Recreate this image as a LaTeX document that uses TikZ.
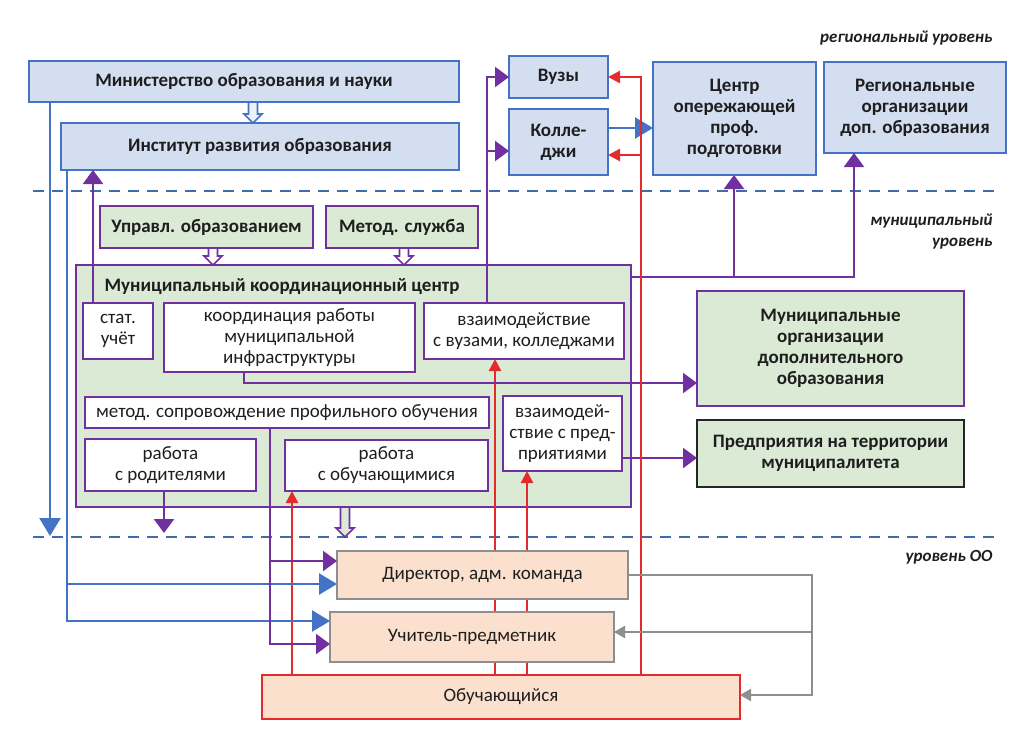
\documentclass[tikz,border=0pt]{standalone}
\usepackage{fontspec}
\setmainfont{Carlito}
\usetikzlibrary{arrows.meta}
\definecolor{bfill}{HTML}{D3DEF0}
\definecolor{bdraw}{HTML}{4472C4}
\definecolor{gfill}{HTML}{DAEAD5}
\definecolor{pur}{HTML}{7030A0}
\definecolor{pfill}{HTML}{FBE0CD}
\definecolor{gr}{HTML}{8E8E8E}
\definecolor{rd}{HTML}{E32B2B}
\definecolor{dsh}{HTML}{3F6CAA}
\definecolor{txt}{HTML}{1E1E1E}
\newcommand\bx[7]{\node[#2, minimum width={(#5-#3)*1pt}, minimum height={(#6-#4)*1pt}] (#1) at ({(#3+#5)/2},{(#4+#6)/2}) {#7};}
\newcommand\harrow[5]{\draw[draw=#4, fill=#5, line width=1.6pt, line join=miter] ({#1-4.5},{#2}) -- ({#1+4.5},{#2}) -- ({#1+4.5},{#3-9}) -- ({#1+9},{#3-9}) -- ({#1},{#3}) -- ({#1-9},{#3-9}) -- ({#1-4.5},{#3-9}) -- cycle;}
\tikzset{
  rfont/.style={font=\fontsize{19}{21}\selectfont, text=txt},
  bfont/.style={font=\fontsize{19}{21}\selectfont\bfseries, text=txt},
  box/.style={draw, line width=2.2pt, inner sep=1pt, outer sep=0pt, align=center},
  bluebox/.style={box, draw=bdraw, fill=bfill, bfont},
  greenbox/.style={box, draw=pur, fill=gfill, bfont},
  wbox/.style={box, draw=pur, fill=white, rfont},
  peachbox/.style={box, draw=gr, fill=pfill, rfont},
  redbox/.style={box, draw=rd, fill=pfill, rfont},
  lvl/.style={anchor=east, font=\fontsize{17}{21}\selectfont\bfseries\itshape, align=right, text=txt},
  dl/.style={draw=dsh, line width=2.6pt, dash pattern=on 11pt off 8pt},
  parr/.style={draw=pur, line width=2.2pt, -{Triangle[length=14pt,width=20pt]}},
  barr/.style={draw=bdraw, line width=2.5pt, -{Triangle[length=18pt,width=21pt]}},
  rarr/.style={draw=rd, line width=2.5pt, -{Triangle[length=12pt,width=12pt]}},
  garr/.style={draw=gr, line width=2.2pt, -{Triangle[length=11pt,width=12pt]}},
}
\begin{document}
\begin{tikzpicture}[x=1pt,y=-1pt]
\useasboundingbox[fill=white] (0,0) rectangle (1027,737);
% level separators
\draw[dl] (33,191) -- (1000,191);
\draw[dl] (33,537) -- (1000,537);
\node[lvl] (l1) at (996,38) {региональный уровень};
\node[lvl] (l2) at (996,232) {муниципальный\\уровень};
\node[lvl] (l3) at (996,557) {уровень ОО};
% regional level
\bx{min}{bluebox}{29}{61}{459}{102}{Министерство образования и науки}
\bx{inst}{bluebox}{61}{123}{459}{170}{Институт развития образования}
\bx{vuz}{bluebox}{509}{56}{608}{98}{Вузы}
\bx{kol}{bluebox}{509}{109}{608}{175}{Колле-\\джи}
\bx{cen}{bluebox}{653}{62}{816}{175}{Центр\\опережающей\\проф.\\подготовки}
\bx{reg}{bluebox}{824}{62}{1006}{153}{Региональные\\организации\\доп. образования}
% municipal level
\bx{upr}{greenbox}{100}{206}{313}{248}{Управл. образованием}
\bx{mets}{greenbox}{326}{206}{478}{248}{Метод. служба}
\bx{mkc}{greenbox}{76}{265}{631}{507}{}
\node[bfont, anchor=west] (mkct) at (101,287) {Муниципальный координационный центр};
\bx{stat}{wbox}{83}{303}{153}{359}{стат.\\учёт}
\bx{koord}{wbox}{164}{303}{415}{372}{координация работы\\муниципальной\\инфраструктуры}
\bx{vz}{wbox}{424}{303}{624}{359}{взаимодействие\\с вузами, колледжами}
\bx{met}{wbox}{85}{397}{489}{428}{метод. сопровождение профильного обучения}
\bx{rod}{wbox}{85}{439}{256}{491}{работа\\с родителями}
\bx{obu}{wbox}{285}{440}{488}{491}{работа\\с обучающимися}
\bx{pred}{wbox}{503}{396}{622}{471}{взаимодей-\\ствие с пред-\\приятиями}
\bx{mun}{greenbox}{697}{291}{964}{406}{Муниципальные\\организации\\дополнительного\\образования}
\bx{ent}{greenbox, draw=black!85}{697}{420}{964}{487}{Предприятия на территории\\муниципалитета}
% school level
\bx{ob}{redbox}{262}{675}{740}{719}{Обучающийся}
% hollow arrows
\harrow{253}{102}{123}{bdraw}{bfill!40}
\harrow{213}{248}{265}{pur}{white}
\harrow{404}{248}{265}{pur}{white}
\harrow{345}{507}{537}{pur}{gfill}
% red lines (behind school boxes)
\draw[rarr] (292,0 |- ob.north) -- (292,0 |- obu.south);
\draw[rarr] (495,0 |- ob.north) -- (495,0 |- vz.south);
\draw[rarr] (527,0 |- ob.north) -- (527,0 |- pred.south);
\bx{dir}{peachbox}{337}{551}{628}{599}{Директор, адм. команда}
\bx{uch}{peachbox}{330}{612}{614}{662}{Учитель-предметник}
% blue connectors
\draw[barr] (50,0 |- min.south) -- (50,536);
\draw[barr] (67,0 |- inst.south) -- (67,621) -- (uch.west |- 0,621);
\coordinate (bj) at (67,584);
\draw[barr] (bj) -- (dir.west |- bj);
\draw[barr] (kol.east |- 0,128) -- (cen.west |- 0,128);
% purple connectors
\draw[parr] (93,0 |- stat.north) -- (93,0 |- inst.south);
\draw[parr] (487,0 |- vz.north) -- (487,77) -- (vuz.west |- 0,77);
\coordinate (pj1) at (487,151);
\draw[parr] (pj1) -- (kol.west |- pj1);
\draw[parr] (mkc.east |- 0,277) -- (854,277) -- (854,0 |- reg.south);
\coordinate (pj2) at (734,277);
\draw[parr] (pj2) -- (pj2 |- cen.south);
\draw[parr] (244,0 |- koord.south) -- (244,383) -- (mun.west |- 0,383);
\draw[parr] (pred.east |- 0,458) -- (ent.west |- 0,458);
\draw[parr] (270,0 |- met.south) -- (270,644) -- (uch.west |- 0,644);
\coordinate (pj3) at (270,561);
\draw[parr] (pj3) -- (dir.west |- pj3);
\draw[parr] (164,0 |- rod.south) -- (164,533);
% red to universities / colleges
\draw[rarr] (641,0 |- ob.north) -- (641,77) -- (vuz.east |- 0,77);
\coordinate (rj) at (641,155);
\draw[rarr] (rj) -- (kol.east |- rj);
% grey feedback
\draw[garr] (dir.east |- 0,575) -- (812,575) -- (812,695) -- (ob.east |- 0,695);
\coordinate (gj) at (812,632);
\draw[garr] (gj) -- (uch.east |- gj);
\end{tikzpicture}
\end{document}
